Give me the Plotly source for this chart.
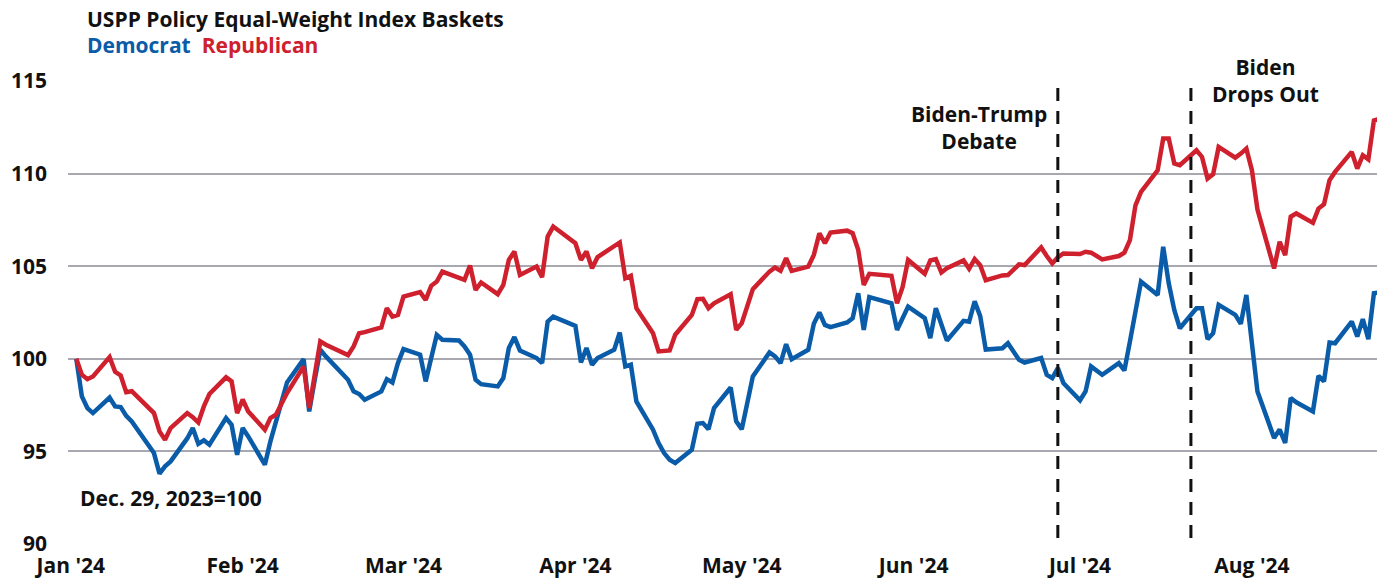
import plotly.graph_objects as go

dates = [
    "2024-01-02", "2024-01-03", "2024-01-04", "2024-01-05", "2024-01-08", "2024-01-09", "2024-01-10", "2024-01-11", "2024-01-12",
    "2024-01-16", "2024-01-17", "2024-01-18", "2024-01-19", "2024-01-22", "2024-01-23", "2024-01-24", "2024-01-25", "2024-01-26",
    "2024-01-29", "2024-01-30", "2024-01-31", "2024-02-01", "2024-02-02", "2024-02-05", "2024-02-06", "2024-02-07", "2024-02-08",
    "2024-02-09", "2024-02-12", "2024-02-13", "2024-02-14", "2024-02-15", "2024-02-16", "2024-02-20", "2024-02-21", "2024-02-22",
    "2024-02-23", "2024-02-26", "2024-02-27", "2024-02-28", "2024-02-29", "2024-03-01", "2024-03-04", "2024-03-05", "2024-03-06",
    "2024-03-07", "2024-03-08", "2024-03-11", "2024-03-12", "2024-03-13", "2024-03-14", "2024-03-15", "2024-03-18", "2024-03-19",
    "2024-03-20", "2024-03-21", "2024-03-22", "2024-03-25", "2024-03-26", "2024-03-27", "2024-03-28", "2024-04-01", "2024-04-02",
    "2024-04-03", "2024-04-04", "2024-04-05", "2024-04-08", "2024-04-09", "2024-04-10", "2024-04-11", "2024-04-12", "2024-04-15",
    "2024-04-16", "2024-04-17", "2024-04-18", "2024-04-19", "2024-04-22", "2024-04-23", "2024-04-24", "2024-04-25", "2024-04-26",
    "2024-04-29", "2024-04-30", "2024-05-01", "2024-05-02", "2024-05-03", "2024-05-06", "2024-05-07", "2024-05-08", "2024-05-09",
    "2024-05-10", "2024-05-13", "2024-05-14", "2024-05-15", "2024-05-16", "2024-05-17", "2024-05-20", "2024-05-21", "2024-05-22",
    "2024-05-23", "2024-05-24", "2024-05-28", "2024-05-29", "2024-05-30", "2024-05-31", "2024-06-03", "2024-06-04", "2024-06-05",
    "2024-06-06", "2024-06-07", "2024-06-10", "2024-06-11", "2024-06-12", "2024-06-13", "2024-06-14", "2024-06-17", "2024-06-18",
    "2024-06-20", "2024-06-21", "2024-06-24", "2024-06-25", "2024-06-26", "2024-06-27", "2024-06-28", "2024-07-01", "2024-07-02",
    "2024-07-03", "2024-07-05", "2024-07-08", "2024-07-09", "2024-07-10", "2024-07-11", "2024-07-12", "2024-07-15", "2024-07-16",
    "2024-07-17", "2024-07-18", "2024-07-19", "2024-07-22", "2024-07-23", "2024-07-24", "2024-07-25", "2024-07-26", "2024-07-29",
    "2024-07-30", "2024-07-31", "2024-08-01", "2024-08-02", "2024-08-05", "2024-08-06", "2024-08-07", "2024-08-08", "2024-08-09",
    "2024-08-12", "2024-08-13", "2024-08-14", "2024-08-15", "2024-08-16", "2024-08-19", "2024-08-20", "2024-08-21", "2024-08-22",
    "2024-08-23", "2024-08-26",
]

democrat = [
    100.0, 97.97, 97.34, 97.07, 97.91, 97.43, 97.39, 96.92, 96.62,
    94.91, 93.8, 94.19, 94.46, 95.7, 96.26, 95.41, 95.6, 95.36,
    96.8, 96.44, 94.82, 96.26, 95.81, 94.28, 95.54, 96.62, 97.79,
    98.72, 99.98, 97.16, 98.87, 100.49, 100.13, 98.87, 98.24, 98.1,
    97.79, 98.24, 98.9, 98.72, 99.77, 100.52, 100.22, 98.78, 100.04,
    101.29, 101.03, 100.99, 100.67, 100.22, 98.87, 98.63, 98.51, 98.96,
    100.58, 101.17, 100.45, 100.04, 99.77, 102.01, 102.28, 101.78, 99.8,
    100.58, 99.68, 100.04, 100.49, 101.42, 99.59, 99.68, 97.7, 96.17,
    95.45, 94.91, 94.55, 94.37, 95.09, 96.49, 96.53, 96.2, 97.34,
    98.45, 96.62, 96.2, 97.61, 99.05, 100.34, 100.13, 99.77, 100.79,
    99.98, 100.49, 101.89, 102.5, 101.83, 101.71, 101.96, 102.19, 103.54,
    101.56, 103.33, 103.0, 101.56, 102.19, 102.82, 102.19, 101.12, 102.73,
    101.89, 100.99, 102.05, 102.0, 103.1, 102.3, 100.5, 100.57, 100.84,
    99.95, 99.8, 100.04, 99.14, 98.96, 99.5, 98.69, 97.76, 98.24,
    99.59, 99.14, 99.77, 99.37, 100.93, 102.64, 104.17, 103.45, 106.05,
    104.08, 102.64, 101.65, 102.73, 102.73, 101.06, 101.38, 102.91, 102.37,
    101.89, 103.45, 100.84, 98.24, 95.73, 96.18, 95.46, 97.88, 97.65,
    97.16, 99.08, 98.78, 100.88, 100.84, 102.01, 101.2, 102.14, 101.06,
    103.54, 103.68,
]

republican = [
    100.0, 99.14, 98.9, 99.05, 100.09, 99.3, 99.1, 98.2, 98.25,
    97.07, 96.08, 95.63, 96.26, 97.07, 96.85, 96.56, 97.43, 98.1,
    99.0, 98.78, 97.07, 97.8, 97.16, 96.17, 96.8, 96.98, 97.57,
    98.15, 99.59, 97.34, 99.14, 100.94, 100.76, 100.2, 100.67, 101.38,
    101.44, 101.69, 102.73, 102.28, 102.37, 103.36, 103.6, 103.18, 103.94,
    104.17, 104.71, 104.41, 104.26, 105.04, 103.72, 104.12, 103.49, 103.99,
    105.34, 105.79, 104.53, 104.98, 104.41, 106.6, 107.14, 106.24, 105.34,
    105.79, 104.89, 105.49, 106.06, 106.28, 104.35, 104.48, 102.73, 101.38,
    100.4, 100.4, 100.45, 101.3, 102.37, 103.22, 103.24, 102.73, 103.0,
    103.49, 101.56, 101.92, 102.82, 103.76, 104.71, 104.93, 104.75, 105.43,
    104.75, 104.98, 105.61, 106.78, 106.24, 106.82, 106.92, 106.78, 105.88,
    103.99, 104.59, 104.48, 103.0, 103.87, 105.34, 104.59, 105.31, 105.38,
    104.66, 104.89, 105.31, 104.86, 105.38, 105.05, 104.24, 104.5, 104.52,
    105.1, 105.06, 106.01, 105.55, 105.15, 105.48, 105.69, 105.66, 105.78,
    105.73, 105.37, 105.55, 105.73, 106.41, 108.29, 109.01, 110.18, 111.89,
    111.89, 110.54, 110.45, 111.26, 110.9, 109.73, 109.96, 111.44, 110.86,
    111.08, 111.35, 110.18, 108.06, 104.88, 106.32, 105.6, 107.67, 107.85,
    107.34, 108.11, 108.35, 109.64, 110.09, 111.17, 110.27, 110.99, 110.77,
    112.87, 113.1,
]

y_ticks = [90, 95, 100, 105, 110, 115]
event_dates = ["2024-06-27", "2024-07-21"]
event_labels = ["Biden-Trump<br>Debate", "Biden<br>Drops Out"]

BLUE = "#0a5ca8"
RED = "#cf202e"
FONT = "Open Sans"
FS = 21

fig = go.Figure()
fig.add_trace(go.Scatter(x=dates, y=democrat, mode="lines", name="Democrat",
                         line=dict(color=BLUE, width=4.5), hoverinfo="x+y"))
fig.add_trace(go.Scatter(x=dates, y=republican, mode="lines", name="Republican",
                         line=dict(color=RED, width=4.5), hoverinfo="x+y"))

for d in event_dates:
    fig.add_shape(type="line", xref="x", yref="y", x0=d, x1=d, y0=114.62, y1=90,
                  line=dict(color="#111111", width=3, dash="13px,10px"), layer="above")

# The page body has an 8px default margin; size the figure so it fills the window.
OFF = 8
W, H = 1385 - OFF, 579 - OFF
L, R, T, B = 68 - OFF, 0, 81 - OFF, 35
pw, ph = W - L - R, H - T - B

def px(x):
    return (x - OFF - L) / pw

def py(y):
    return (H - B - (y - OFF)) / ph

anns = [
    dict(text="<b>USPP Policy Equal-Weight Index Baskets</b>", x=px(85), y=py(19),
         xanchor="left", yanchor="middle", font=dict(size=FS, color="#111111")),
    dict(text=f"<b><span style='color:{BLUE}'>Democrat</span>&nbsp;&nbsp;<span style='color:{RED}'>Republican</span></b>",
         x=px(85), y=py(45), xanchor="left", yanchor="middle", font=dict(size=FS)),
    dict(text="<b>Dec. 29, 2023=100</b>", x=px(78), y=py(498), xanchor="left", yanchor="middle",
         font=dict(size=FS, color="#111111")),
    dict(text=f"<b>{event_labels[0]}</b>", x=px(979), y=py(127), xanchor="center", yanchor="middle",
         font=dict(size=FS, color="#111111")),
    dict(text=f"<b>{event_labels[1]}</b>", x=px(1265), y=py(80), xanchor="center", yanchor="middle",
         font=dict(size=FS, color="#111111")),
]
for a in anns:
    a.update(xref="paper", yref="paper", showarrow=False, align="center")

fig.update_layout(
    width=W, height=H,
    margin=dict(l=L, r=R, t=T, b=B, pad=0),
    paper_bgcolor="white", plot_bgcolor="white",
    showlegend=False,
    font=dict(family=FONT, color="#111111"),
    annotations=anns,
    xaxis=dict(
        type="date",
        range=["2023-12-31 12:00", "2024-08-25 00:00"],
        tick0="2024-01-01", dtick="M1", tickformat="%b '%y",
        showgrid=False, zeroline=False, showline=False, ticks="",
        tickfont=dict(family=FONT, size=FS, color="#111111", weight="bold"),
        ticklabelstandoff=7,
    ),
    yaxis=dict(
        range=[90, 115], tickvals=y_ticks, ticktext=[str(v) for v in y_ticks],
        showgrid=True, gridcolor="#a8a8b0", gridwidth=1.5,
        zeroline=False, showline=False, ticks="",
        tickfont=dict(family=FONT, size=FS, color="#111111", weight="bold"),
        ticklabelstandoff=20,
    ),
)

fig.write_html("out.html")
